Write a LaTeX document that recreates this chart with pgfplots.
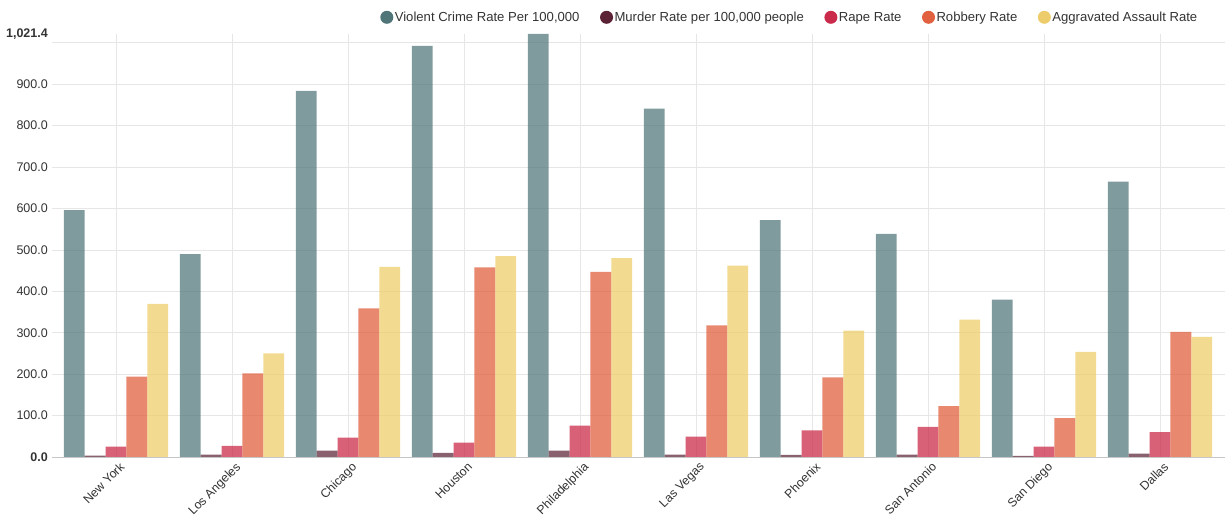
\documentclass[border=0pt]{standalone}
\usepackage{fontspec}
\setmainfont{Liberation Sans}
\usepackage{pgfplots}
\pgfplotsset{compat=1.18}
\definecolor{cV}{HTML}{4F7579}
\definecolor{cM}{HTML}{5B2235}
\definecolor{cR}{HTML}{CB2B4A}
\definecolor{cB}{HTML}{E0603F}
\definecolor{cA}{HTML}{EDCD6B}
\definecolor{gridc}{HTML}{E6E6E6}
\definecolor{txt}{HTML}{333333}
\begin{document}
\begin{tikzpicture}
\begin{axis}[
  at={(52pt,64pt)}, anchor=south west,
  scale only axis, width=1173pt, height=423pt,
  xmin=-0.552, xmax=9.56, ymin=0, ymax=1021.4,
  ybar, bar width=0.18,
  axis lines*=left,
  y axis line style={draw=none},
  x axis line style={draw=gray!45},
  major tick length=0pt,
  tick style={draw=none},
  xtick={0,...,9},
  xticklabels={New York,Los Angeles,Chicago,Houston,Philadelphia,Las Vegas,Phoenix,San Antonio,San Diego,Dallas},
  xticklabel style={rotate=45, anchor=north east, font=\fontsize{12.3}{14}\selectfont, text=txt, inner sep=2pt, yshift=-3pt, xshift=1pt},
  ytick={0,100,...,1000},
  yticklabels={\textbf{0.0},100.0,200.0,300.0,400.0,500.0,600.0,700.0,800.0,900.0,{}},
  extra y ticks={1021.4},
  extra y tick labels={\textbf{1,021.4}},
  extra y tick style={grid=none},
  yticklabel style={font=\fontsize{12.5}{14}\selectfont, text=txt, anchor=east, inner sep=1pt, xshift=-3pt},
  /pgf/number format/assume math mode=true,
  xmajorgrids, ymajorgrids,
  major grid style={draw=gridc, line width=0.8pt},
  legend columns=-1,
  legend style={draw=none, fill=none, at={(1,1)}, anchor=south east, xshift=-26pt, yshift=9pt,
    font=\fontsize{13.1}{15}\selectfont, text=txt, inner sep=0pt,
    nodes={inner xsep=1.5pt},
    /tikz/every even column/.append style={column sep=19pt}},
]
\addplot[fill=cV, fill opacity=0.72, draw=none, bar shift=-0.36,
  legend image code/.code={\fill[fill opacity=1] (0pt,0pt) circle (6.5pt);}]
  coordinates {(0,596) (1,490) (2,884) (3,993) (4,1021.4) (5,841) (6,572) (7,539) (8,380) (9,665)};
\addplot[fill=cM, fill opacity=0.72, draw=none, bar shift=-0.18,
  legend image code/.code={\fill[fill opacity=1] (0pt,0pt) circle (6.5pt);}]
  coordinates {(0,3.5) (1,6) (2,15.5) (3,10) (4,15.5) (5,6) (6,5) (7,5.5) (8,2.5) (9,8)};
\addplot[fill=cR, fill opacity=0.75, draw=none, bar shift=0,
  legend image code/.code={\fill[fill opacity=1] (0pt,0pt) circle (6.5pt);}]
  coordinates {(0,25) (1,27) (2,47) (3,35) (4,76) (5,49) (6,64) (7,73) (8,25) (9,60)};
\addplot[fill=cB, fill opacity=0.75, draw=none, bar shift=0.18,
  legend image code/.code={\fill[fill opacity=1] (0pt,0pt) circle (6.5pt);}]
  coordinates {(0,194) (1,202) (2,359) (3,458) (4,447) (5,318) (6,192) (7,123) (8,94) (9,302)};
\addplot[fill=cA, fill opacity=0.75, draw=none, bar shift=0.36,
  legend image code/.code={\fill[fill opacity=1] (0pt,0pt) circle (6.5pt);}]
  coordinates {(0,370) (1,250) (2,459) (3,485) (4,480) (5,462) (6,305) (7,332) (8,254) (9,290)};
\legend{{Violent Crime Rate Per 100,000}, {Murder Rate per 100,000 people}, {Rape Rate}, {Robbery Rate}, {Aggravated Assault Rate}}
\end{axis}
\pgfresetboundingbox
\path[use as bounding box] (0,0) rectangle (1225pt,521pt);
\end{tikzpicture}
\end{document}
